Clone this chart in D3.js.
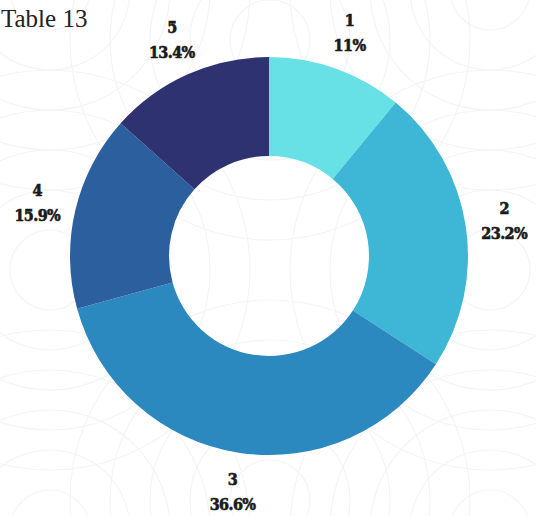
<!DOCTYPE html>
<html><head><meta charset="utf-8">
<script src="https://cdn.jsdelivr.net/npm/d3@7"></script>
<style>
html,body{margin:0;padding:0;background:#fff;overflow:hidden;}
svg{display:block;}
</style></head>
<body>
<svg id="chart" width="536" height="516"></svg>
<script>
const categories = ["1", "2", "3", "4", "5"];
const values = [11, 23.2, 36.6, 15.9, 13.4];
const valueLabels = ["11%", "23.2%", "36.6%", "15.9%", "13.4%"];
const colors = ["#68e1e6", "#3eb6d6", "#2c89bf", "#2b5f9d", "#2e3270"];
const title = "Table 13";

const svg = d3.select("#chart");
const cx = 269, cy = 256, outerR = 199, innerR = 100, labelR = 238;

// faint background pattern of concentric circles
const bg = svg.append("g").attr("fill", "none").attr("stroke", "#f4f4f4").attr("stroke-width", 1.2);
const centers = [[270, 40], [50, 270], [490, 270], [270, 500], [50, -10], [490, -10], [50, 530], [490, 530]];
centers.forEach(c => {
  [40, 80, 120, 160, 200].forEach(r => {
    bg.append("circle").attr("cx", c[0]).attr("cy", c[1]).attr("r", r);
  });
});

const pie = d3.pie().value(d => d).sort(null);
const arcs = pie(values);
const arc = d3.arc().innerRadius(innerR).outerRadius(outerR);
const labelArc = d3.arc().innerRadius(labelR).outerRadius(labelR);

const g = svg.append("g").attr("transform", `translate(${cx},${cy})`);
g.selectAll("path").data(arcs).join("path")
  .attr("d", arc)
  .attr("fill", (d, i) => colors[i]);

const lbl = g.selectAll("g.lbl").data(arcs).join("g")
  .attr("class", "lbl")
  .attr("transform", d => `translate(${labelArc.centroid(d)})`);
const fontStyle = sel => sel
  .attr("text-anchor", "middle")
  .attr("font-family", "'DejaVu Serif Condensed', 'DejaVu Serif', serif")
  .attr("font-stretch", "condensed")
  .attr("font-weight", "bold")
  .attr("font-size", 16)
  .attr("letter-spacing", -0.6)
  .attr("fill", "#1a1a1a")
  .attr("stroke", "#1a1a1a")
  .attr("stroke-width", 0.6);
lbl.append("text").attr("y", -6).text((d, i) => categories[i]).call(fontStyle);
lbl.append("text").attr("y", 19).text((d, i) => valueLabels[i]).call(fontStyle);

svg.append("text")
  .attr("x", 1).attr("y", 27)
  .attr("font-family", "'Liberation Serif', 'DejaVu Serif', serif")
  .attr("font-size", 25)
  .attr("fill", "#222")
  .text(title);
</script>
</body></html>
